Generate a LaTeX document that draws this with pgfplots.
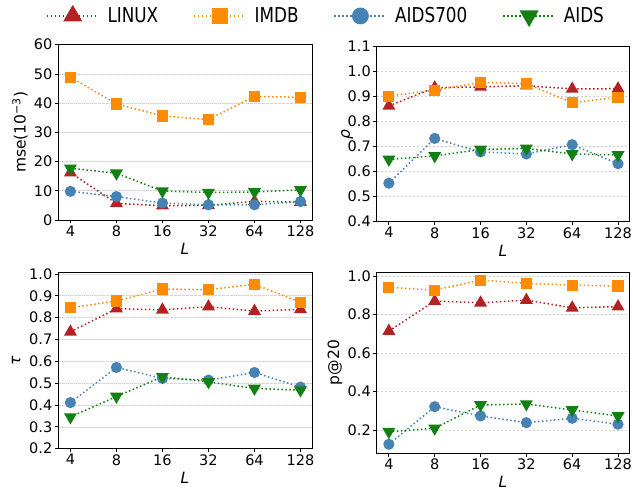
\documentclass[border=0pt]{standalone}
\usepackage{fontspec}
\setmainfont{DejaVu Sans}
\newfontfamily\legfont[FakeStretch=0.82]{DejaVu Sans}
\usepackage{pgfplots}
\usepackage{pgfplotstable}
\pgfplotsset{compat=1.18}

\definecolor{clinux}{HTML}{B22222}
\definecolor{cimdb}{HTML}{FF8C00}
\definecolor{caidsb}{HTML}{4682B4}
\definecolor{caids}{HTML}{138013}

\pgfplotstableread{
x linux imdb aidsb aids
0 16.2 48.9 9.8 17.7
1 5.7 39.7 8.0 16.0
2 4.9 35.6 5.8 9.9
3 5.0 34.4 5.2 9.4
4 6.4 42.3 5.2 9.6
5 6.1 42.0 6.3 10.3
}\tmse
\pgfplotstableread{
x linux imdb aidsb aids
0 0.863 0.902 0.554 0.649
1 0.936 0.926 0.733 0.663
2 0.939 0.957 0.679 0.689
3 0.944 0.952 0.671 0.693
4 0.931 0.876 0.708 0.671
5 0.932 0.898 0.632 0.667
}\trho
\pgfplotstableread{
x linux imdb aidsb aids
0 0.735 0.845 0.411 0.345
1 0.841 0.876 0.572 0.439
2 0.836 0.931 0.522 0.529
3 0.850 0.928 0.514 0.506
4 0.830 0.953 0.549 0.476
5 0.838 0.870 0.482 0.468
}\ttau
\pgfplotstableread{
x linux imdb aidsb aids
0 0.714 0.941 0.126 0.191
1 0.870 0.927 0.321 0.209
2 0.861 0.979 0.273 0.330
3 0.875 0.962 0.238 0.335
4 0.835 0.953 0.261 0.304
5 0.841 0.948 0.230 0.273
}\tpat

\pgfplotsset{
  myax/.style={
    scale only axis, anchor=south west,
    xmin=-0.27, xmax=5.25,
    xtick={0,...,5}, xticklabels={4,8,16,32,64,128},
    tick align=outside, tick pos=left,
    major tick length=3.5pt,
    every tick/.style={black, line width=0.8pt},
    axis line style={line width=0.9pt},
    ymajorgrids,
    grid style={gray!35, dash pattern=on 2.5pt off 1.5pt, line width=0.7pt},
    tick label style={font=\fontsize{14.5}{16}\selectfont},
    label style={font=\fontsize{15.5}{17}\selectfont},
    xticklabel style={inner sep=2pt},
    yticklabel style={inner sep=2pt},
    /pgf/number format/assume math mode=true,
    xlabel={\itshape L},
    xlabel style={at={(axis description cs:0.5,0)}, anchor=center, yshift=-29pt},
    legend image code/.code={%
      \draw[mark repeat=2, mark phase=2, ##1, every mark/.append style={scale=1.6}]
        plot coordinates {(0pt,0pt) (26pt,0pt) (52pt,0pt)};},
  },
  dec1/.style={yticklabel style={/pgf/number format/.cd, fixed, fixed zerofill, precision=1}},
  lx/.style={color=clinux, mark=triangle*, mark size=6pt, line width=1.5pt, dash pattern=on 1.5pt off 2.5pt, mark options={solid}},
  im/.style={color=cimdb, mark=square*, mark size=4.8pt, line width=1.5pt, dash pattern=on 1.5pt off 2.5pt, mark options={solid}},
  ab/.style={color=caidsb, mark=*, mark size=4.8pt, line width=1.5pt, dash pattern=on 1.5pt off 2.5pt, mark options={solid}},
  ad/.style={color=caids, mark=triangle*, mark size=6pt, line width=1.5pt, dash pattern=on 1.5pt off 2.5pt, mark options={solid, rotate=180}},
}

\begin{document}
\begin{tikzpicture}
\useasboundingbox (0,0) rectangle (633pt,494pt);
% top-left
\begin{axis}[myax, at={(58pt,274pt)}, width=254pt, height=175.3pt,
  ymin=0, ymax=60, ytick={0,10,...,60},
  ylabel={mse(10\textsuperscript{−3})},
  ylabel style={at={(axis description cs:-0.15,0.5)}, anchor=center},
  legend style={legend columns=4, draw=none, fill=none,
    at={(axis description cs:1.055,1.164)}, anchor=center,
    font=\legfont\fontsize{20.5}{22}\selectfont,
    /tikz/every odd column/.append style={column sep=6pt},
    /tikz/every even column/.append style={column sep=33pt}},
  legend cell align=left]
\addplot[lx] table[x=x,y=linux]{\tmse};
\addplot[im] table[x=x,y=imdb]{\tmse};
\addplot[ab] table[x=x,y=aidsb]{\tmse};
\addplot[ad] table[x=x,y=aids]{\tmse};
\legend{LINUX,IMDB,AIDS700,AIDS}
\end{axis}
% top-right
\begin{axis}[myax, dec1, at={(376.5pt,272.3pt)}, width=253pt, height=175pt,
  ymin=0.4, ymax=1.1, ytick={0.4,0.5,...,1.1},
  ylabel={\itshape ρ},
  ylabel style={at={(axis description cs:-0.116,0.5)}, anchor=center}]
\addplot[lx] table[x=x,y=linux]{\trho};
\addplot[im] table[x=x,y=imdb]{\trho};
\addplot[ab] table[x=x,y=aidsb]{\trho};
\addplot[ad] table[x=x,y=aids]{\trho};
\end{axis}
% bottom-left
\begin{axis}[myax, dec1, at={(58pt,45.3pt)}, width=254pt, height=176.7pt,
  ymin=0.2, ymax=1.009, ytick={0.2,0.3,...,1.0},
  ylabel={\itshape τ},
  ylabel style={at={(axis description cs:-0.165,0.5)}, anchor=center}]
\addplot[lx] table[x=x,y=linux]{\ttau};
\addplot[im] table[x=x,y=imdb]{\ttau};
\addplot[ab] table[x=x,y=aidsb]{\ttau};
\addplot[ad] table[x=x,y=aids]{\ttau};
\end{axis}
% bottom-right
\begin{axis}[myax, dec1, at={(376.5pt,40.7pt)}, width=253pt, height=181.3pt,
  ymin=0.079, ymax=1.021, ytick={0.2,0.4,...,1.0},
  ylabel={p@20},
  ylabel style={at={(axis description cs:-0.164,0.5)}, anchor=center}]
\addplot[lx] table[x=x,y=linux]{\tpat};
\addplot[im] table[x=x,y=imdb]{\tpat};
\addplot[ab] table[x=x,y=aidsb]{\tpat};
\addplot[ad] table[x=x,y=aids]{\tpat};
\end{axis}
\end{tikzpicture}
\end{document}
